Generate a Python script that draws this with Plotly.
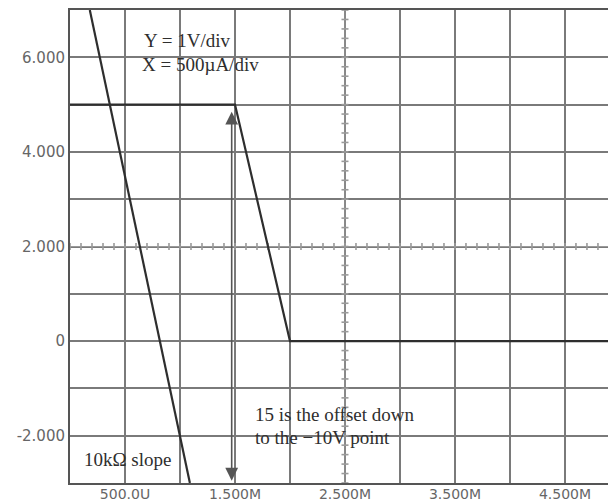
import numpy as np
import plotly.graph_objects as go

# ---- data ----
x_tick_vals = [0.5, 1.5, 2.5, 3.5, 4.5]          # mA
x_tick_text = ["500.0U", "1.500M", "2.500M", "3.500M", "4.500M"]
y_tick_vals = [6, 4, 2, 0, -2]                   # V
y_tick_text = ["6.000", "4.000", "2.000", "0", "-2.000"]

slope_x = [0.18, 1.09]        # 10 kOhm load line (mA)
slope_y = [7.0, -3.0]         # V

curve_x = [0.0, 1.5, 2.0, 5.0]   # transfer curve (mA)
curve_y = [5.0, 5.0, 0.0, 0.0]   # V

arrow_x = 1.47
arrow_top = 4.88
arrow_bottom = -2.95

center_x = 2.5
center_y = 2.0
x_graticule = np.round(np.arange(0, 5.0001, 0.1), 2)
y_graticule = np.round(np.arange(-3, 7.0001, 0.2), 2)

GRID = "#7a7a7a"
INK = "#2e2e2e"
LABEL = "#666666"
SERIF = "Liberation Serif, Times New Roman, serif"

fig = go.Figure()

# graticule centre lines with minor tick marks
fig.add_trace(go.Scatter(
    x=x_graticule, y=[center_y] * len(x_graticule), mode="lines+markers",
    line=dict(color="#9a9a9a", width=1),
    marker=dict(symbol="line-ns-open", size=5, line=dict(color="#666666", width=1.6)),
    hoverinfo="skip", showlegend=False))
fig.add_trace(go.Scatter(
    x=[center_x] * len(y_graticule), y=y_graticule, mode="lines+markers",
    line=dict(color="#9a9a9a", width=1),
    marker=dict(symbol="line-ew-open", size=5, line=dict(color="#666666", width=1.6)),
    hoverinfo="skip", showlegend=False))

# curves
fig.add_trace(go.Scatter(x=slope_x, y=slope_y, mode="lines",
                         line=dict(color=INK, width=2.2), showlegend=False))
fig.add_trace(go.Scatter(x=curve_x, y=curve_y, mode="lines",
                         line=dict(color=INK, width=2.2), showlegend=False))

# double-headed arrow
fig.add_annotation(x=arrow_x, y=arrow_bottom, ax=arrow_x, ay=arrow_top,
                   xref="x", yref="y", axref="x", ayref="y",
                   showarrow=True, arrowhead=2, startarrowhead=2,
                   arrowside="end+start", arrowsize=1.6, startarrowsize=1.6,
                   arrowwidth=1.6, arrowcolor="#555555", text="")

# text labels
def label(txt, x, y):
    fig.add_annotation(x=x, y=y, xref="x", yref="y", text=txt, showarrow=False,
                       xanchor="left", yanchor="middle",
                       font=dict(family=SERIF, size=19, color=INK))

label("Y = 1V/div", 0.655, 6.35)
label("X = 500µA/div", 0.636, 5.84)
label("10kΩ slope", 0.109, -2.51)
label("15 is the offset down", 1.66, -1.56)
label("to the −10V point", 1.66, -2.03)

# the page body has an 8px margin, so the figure is 608x495 to fill the window
fig.update_layout(
    width=608, height=495,
    margin=dict(l=62, r=0, t=2, b=20),
    paper_bgcolor="white", plot_bgcolor="white",
    font=dict(family="DejaVu Sans, sans-serif"),
    xaxis=dict(range=[0, 4.964], tickvals=x_tick_vals, ticktext=x_tick_text,
               showgrid=True, gridcolor=GRID, gridwidth=1.6,
               minor=dict(dtick=0.5, tick0=0, showgrid=True, gridcolor=GRID, gridwidth=1.6),
               showline=True, linecolor="#555555", linewidth=2, mirror=True,
               zeroline=False, ticks="", automargin=False, ticklabelstandoff=-3,
               tickfont=dict(size=14, color=LABEL, family="DejaVu Sans, sans-serif")),
    yaxis=dict(range=[-3, 7], tickvals=y_tick_vals, ticktext=y_tick_text,
               showgrid=True, gridcolor=GRID, gridwidth=1.6,
               minor=dict(dtick=1, tick0=-3, showgrid=True, gridcolor=GRID, gridwidth=1.6),
               showline=True, linecolor="#555555", linewidth=2,
               zeroline=False, ticks="", automargin=False,
               tickfont=dict(size=15, color=LABEL, family="DejaVu Sans, sans-serif")),
)

fig.write_html("out.html")
